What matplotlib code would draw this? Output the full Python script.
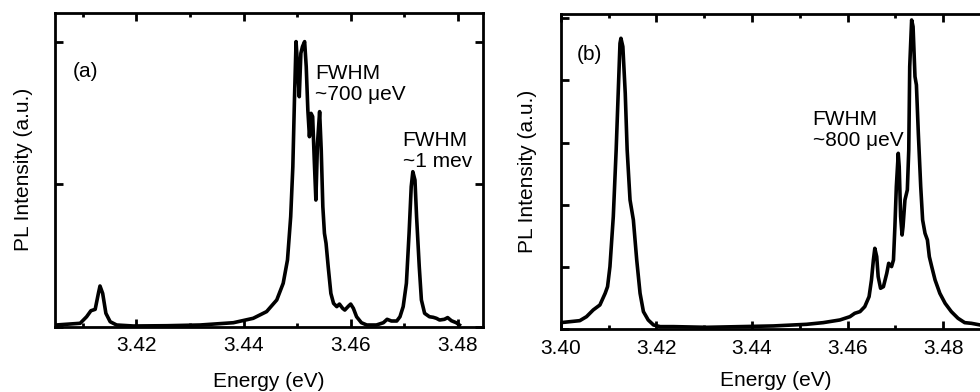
import matplotlib
matplotlib.use("Agg")
import matplotlib.pyplot as plt
from matplotlib.ticker import MultipleLocator

plt.rcParams['font.family'] = ['Liberation Sans', 'DejaVu Sans']

# Panel (a) spectrum
energy_a = [3.4050, 3.4095, 3.4107, 3.4115, 3.4123, 3.4129, 3.4132, 3.4137, 3.4143, 3.4151,
            3.4163, 3.4194, 3.4257, 3.4319, 3.4381, 3.4418, 3.4443, 3.4462, 3.4474, 3.4482,
            3.4488, 3.4492, 3.4495, 3.4498, 3.4501, 3.4504, 3.4507, 3.4510, 3.4514, 3.4517,
            3.4520, 3.4523, 3.4526, 3.4529, 3.4532, 3.4535, 3.4538, 3.4542, 3.4545, 3.4548,
            3.4551, 3.4554, 3.4558, 3.4563, 3.4568, 3.4574, 3.4579, 3.4585, 3.4589, 3.4596,
            3.4600, 3.4605, 3.4611, 3.4620, 3.4630, 3.4648, 3.4661, 3.4668, 3.4676, 3.4686,
            3.4692, 3.4698, 3.4704, 3.4709, 3.4713, 3.4716, 3.4720, 3.4723, 3.4728, 3.4732,
            3.4738, 3.4747, 3.4754, 3.4760, 3.4766, 3.4775, 3.4781, 3.4788, 3.4797, 3.4803]
intensity_a = [0.012, 0.024, 0.070, 0.112, 0.122, 0.234, 0.286, 0.234, 0.094, 0.035,
               0.012, 0.005, 0.007, 0.012, 0.028, 0.059, 0.106, 0.188, 0.305, 0.469,
               0.773, 1.124, 1.593, 2.003, 1.827, 1.616, 1.921, 1.968, 2.003, 1.827,
               1.523, 1.335, 1.499, 1.476, 1.171, 0.890, 1.288, 1.511, 1.242, 0.843,
               0.656, 0.586, 0.422, 0.234, 0.164, 0.141, 0.159, 0.129, 0.117, 0.145,
               0.159, 0.129, 0.070, 0.028, 0.012, 0.012, 0.028, 0.052, 0.040, 0.040,
               0.070, 0.141, 0.305, 0.656, 0.984, 1.089, 1.030, 0.773, 0.422, 0.188,
               0.094, 0.070, 0.066, 0.059, 0.047, 0.052, 0.064, 0.042, 0.028, 0.012]

# Panel (b) spectrum
energy_b = [3.4000, 3.4020, 3.4040, 3.4054, 3.4068, 3.4082, 3.4093, 3.4098, 3.4103, 3.4110,
            3.4116, 3.4121, 3.4124, 3.4126, 3.4130, 3.4135, 3.4139, 3.4145, 3.4152, 3.4159,
            3.4166, 3.4173, 3.4183, 3.4194, 3.4208, 3.4236, 3.4305, 3.4375, 3.4445, 3.4514,
            3.4549, 3.4584, 3.4605, 3.4615, 3.4626, 3.4636, 3.4645, 3.4650, 3.4654, 3.4657,
            3.4661, 3.4664, 3.4669, 3.4675, 3.4682, 3.4686, 3.4692, 3.4696, 3.4699, 3.4702,
            3.4706, 3.4708, 3.4711, 3.4714, 3.4716, 3.4720, 3.4725, 3.4728, 3.4730, 3.4734,
            3.4737, 3.4741, 3.4744, 3.4748, 3.4753, 3.4757, 3.4762, 3.4767, 3.4771, 3.4776,
            3.4783, 3.4793, 3.4804, 3.4817, 3.4831, 3.4845, 3.4859, 3.4877]
intensity_b = [0.107, 0.123, 0.139, 0.203, 0.311, 0.391, 0.578, 0.685, 1.007, 1.810,
               2.881, 3.952, 4.594, 4.675, 4.541, 3.791, 2.881, 2.078, 1.756, 1.114,
               0.578, 0.284, 0.150, 0.070, 0.043, 0.043, 0.032, 0.043, 0.054, 0.080,
               0.107, 0.150, 0.203, 0.257, 0.284, 0.364, 0.525, 0.793, 1.114, 1.301,
               1.167, 0.846, 0.659, 0.685, 0.900, 1.060, 1.007, 1.114, 1.649, 2.292,
               2.827, 2.613, 1.810, 1.515, 1.649, 2.078, 2.238, 2.881, 4.220, 4.969,
               4.862, 4.059, 3.925, 3.149, 2.292, 1.756, 1.542, 1.435, 1.167, 1.007,
               0.793, 0.578, 0.418, 0.284, 0.177, 0.107, 0.096, 0.070]

xticks_a = [3.42, 3.44, 3.46, 3.48]
xticks_b = [3.40, 3.42, 3.44, 3.46, 3.48]
yticks_a = [0, 1, 2]
yticks_b = [0, 1, 2, 3, 4, 5]

FS = 15
fig = plt.figure(figsize=(9.8, 3.92), dpi=100)
ax_a = fig.add_axes([55/980, (392-326.7)/392, (483-55)/980, (326.7-13)/392])
ax_b = fig.add_axes([560.7/980, (392-329.3)/392, (991-560.7)/980, (329.3-14)/392])

for ax, e, i, xt, yt, xlim, ylim, ypad, xpad in [
        (ax_a, energy_a, intensity_a, xticks_a, yticks_a, (3.4048, 3.4847), (0, 2.204), 9, 12),
        (ax_b, energy_b, intensity_b, xticks_b, yticks_b, (3.40, 3.49), (0, 5.065), 10, 9)]:
    ax.plot(e, i, color='black', lw=2.6, solid_joinstyle='round')
    ax.set_xlim(*xlim)
    ax.set_ylim(*ylim)
    ax.set_xticks(xt)
    ax.set_xticklabels([f"{v:.2f}" for v in xt])
    ax.xaxis.set_minor_locator(MultipleLocator(0.01))
    ax.set_yticks(yt)
    ax.set_yticklabels([])
    ax.tick_params(which='both', direction='in', top=True, right=True, width=2, labelsize=FS, pad=7)
    ax.tick_params(which='major', length=6)
    ax.tick_params(which='minor', length=3)
    for s in ax.spines.values():
        s.set_linewidth(2)
    ax.set_xlabel('Energy (eV)', fontsize=FS, labelpad=xpad)
    ax.set_ylabel('PL Intensity (a.u.)', fontsize=FS, labelpad=ypad)

ax_a.text(3.4082, 1.796, '(a)', fontsize=FS, va='center', ha='left')
ax_a.text(3.4533, 1.705, 'FWHM\n~700 μeV', fontsize=FS, va='center', ha='left', linespacing=1.1)
ax_a.text(3.4697, 1.234, 'FWHM\n~1 mev', fontsize=FS, va='center', ha='left', linespacing=1.1)
ax_b.text(3.4034, 4.41, '(b)', fontsize=FS, va='center', ha='left')
ax_b.text(3.4527, 3.20, 'FWHM\n~800 μeV', fontsize=FS, va='center', ha='left', linespacing=1.1)

fig.savefig('out.png', dpi=100)
